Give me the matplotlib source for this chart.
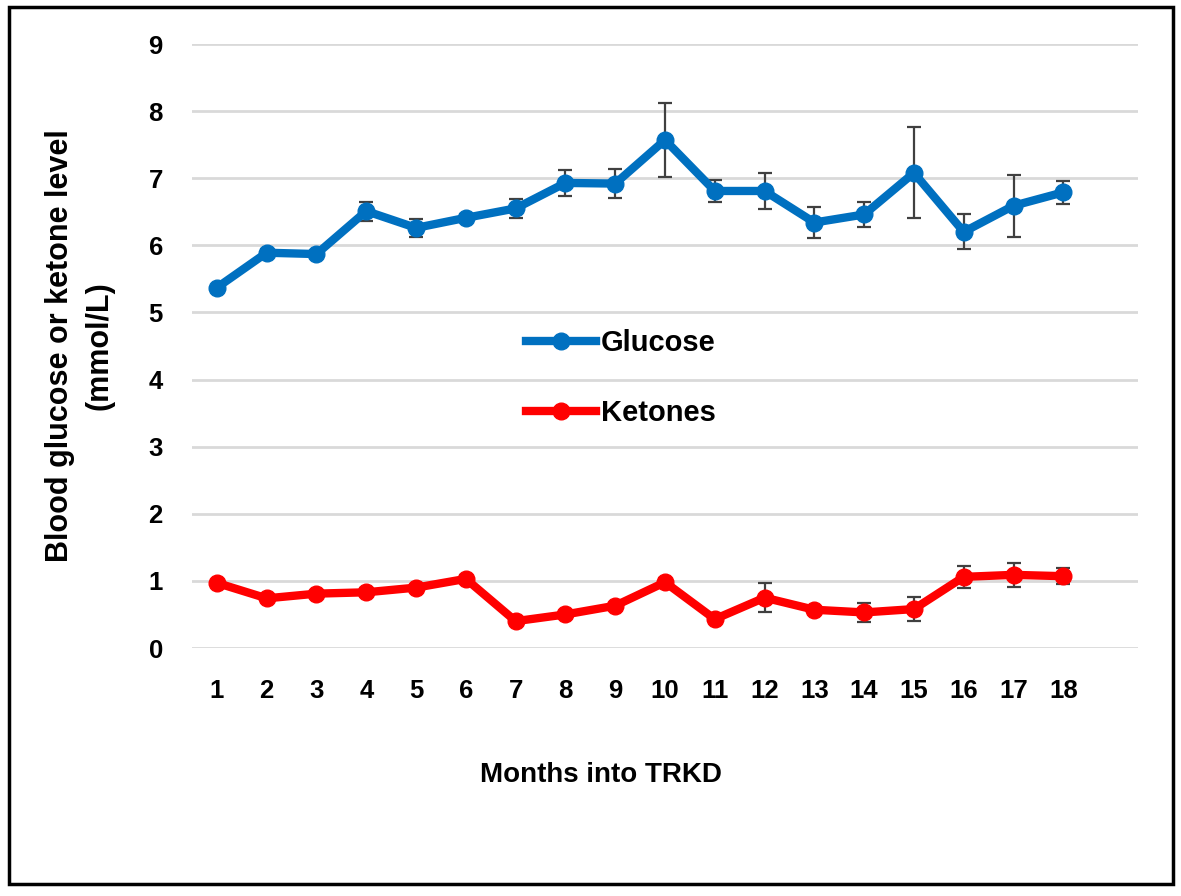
import numpy as np
import matplotlib.pyplot as plt
from matplotlib.patches import Rectangle

plt.rcParams['font.family'] = ['Liberation Sans', 'DejaVu Sans']
plt.rcParams['font.weight'] = 'bold'

months = np.arange(1, 19)
glucose = [5.37, 5.89, 5.87, 6.51, 6.26, 6.41, 6.55, 6.93, 6.92, 7.57,
           6.81, 6.81, 6.34, 6.46, 7.08, 6.20, 6.59, 6.79]
glucose_err = [0.03, 0.05, 0.04, 0.14, 0.13, 0.06, 0.14, 0.19, 0.21, 0.55,
               0.17, 0.27, 0.23, 0.18, 0.68, 0.26, 0.46, 0.17]
ketones = [0.97, 0.74, 0.81, 0.83, 0.90, 1.03, 0.40, 0.50, 0.63, 0.98,
           0.43, 0.75, 0.57, 0.53, 0.58, 1.06, 1.09, 1.07]
ketones_err = [0.03, 0.03, 0.04, 0.06, 0.04, 0.06, 0.03, 0.03, 0.03, 0.06,
               0.03, 0.22, 0.04, 0.14, 0.18, 0.16, 0.18, 0.12]

W, H = 1181, 896
fig = plt.figure(figsize=(W / 100, H / 100), dpi=100)
ax = fig.add_axes([192 / W, 1 - 648 / H, (1138 - 192) / W, (648 - 44) / H])

for y, err, col, lab in [(glucose, glucose_err, '#0070C0', 'Glucose'),
                         (ketones, ketones_err, '#FF0000', 'Ketones')]:
    ax.errorbar(months, y, yerr=err, fmt='none', ecolor='#404040',
                elinewidth=1.6, capsize=5, capthick=1.6, zorder=2)
    ax.plot(months, y, color=col, lw=6, marker='o', ms=12, label=lab,
            zorder=3)

ax.set_xlim(0.5, 19.5)
ax.set_ylim(0, 9)
ax.set_yticks(range(10))
ax.set_xticks(months)
ax.grid(axis='y', color='#D9D9D9', lw=2)
ax.set_axisbelow(True)
for s in ax.spines.values():
    s.set_visible(False)
ax.tick_params(length=0, labelsize=18.5)
for t in ax.get_xticklabels() + ax.get_yticklabels():
    t.set_fontweight('bold')
ax.tick_params(axis='y', pad=21)
ax.tick_params(axis='x', pad=22)

ax.legend(loc='center left', bbox_to_anchor=(500 / W, 1 - 378 / H),
          bbox_transform=fig.transFigure, frameon=False,
          prop={'size': 21, 'weight': 'bold'},
          handlelength=2.4, labelspacing=1.45, handletextpad=0.15)

fig.text(80 / W, 1 - 346 / H, 'Blood glucose or ketone level\n(mmol/L)',
         rotation=90, ha='center', va='center', fontsize=22,
         fontweight='bold', linespacing=1.4)
fig.text(601 / W, 1 - 775 / H, 'Months into TRKD', ha='center',
         va='center', fontsize=20, fontweight='bold')

fig.patches.append(Rectangle((9 / W, 1 - 884 / H), (1173 - 9) / W,
                             (884 - 7) / H, transform=fig.transFigure,
                             fill=False, ec='black', lw=2.5))

fig.savefig('out.png', dpi=100)
